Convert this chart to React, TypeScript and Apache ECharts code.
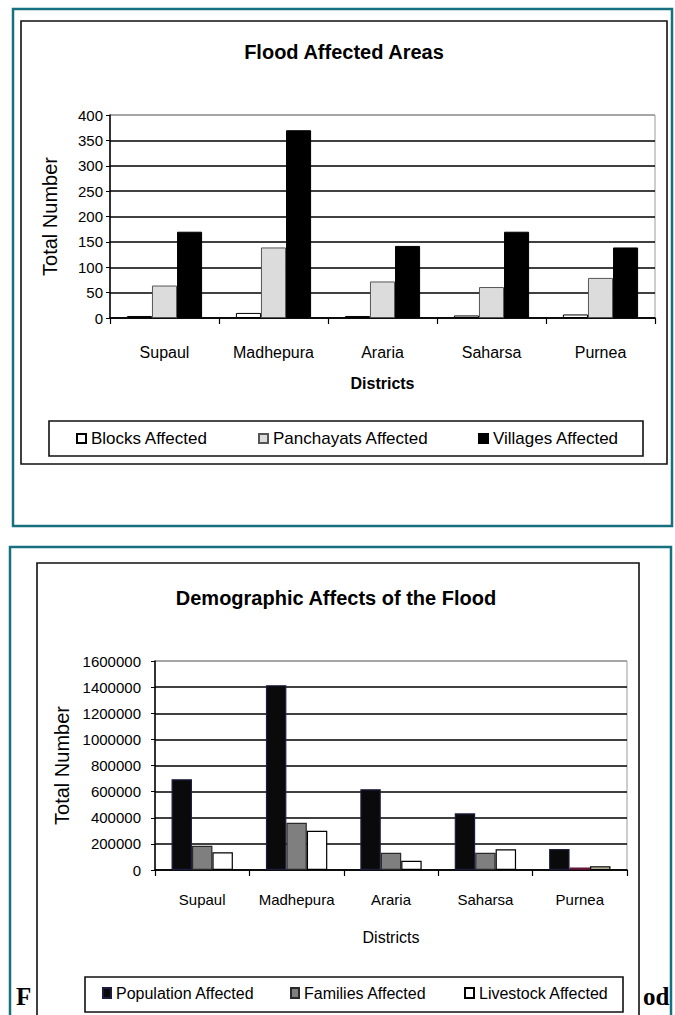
import React, { useEffect, useRef } from "react";
import * as echarts from "echarts";

const categories = ["Supaul", "Madhepura", "Araria", "Saharsa", "Purnea"];
const blocks = [4, 10, 4, 5, 7];
const panchayats = [64, 139, 72, 61, 79];
const villages = [170, 370, 142, 170, 139];
const population = [695000, 1415000, 618000, 434000, 160000];
const families = [185000, 362000, 132000, 132000, 20000];
const livestock = [135000, 301000, 71000, 158000, 28000];
const topTicksMax = 400;
const topTicksStep = 50;
const botTicksMax = 1600000;
const botTicksStep = 200000;

const SANS = "Liberation Sans, Arial, sans-serif";
const TEAL = "#17707f";

export default function App() {
  const ref = useRef<HTMLDivElement>(null);
  useEffect(() => {
    document.body.style.margin = "0";
    document.body.style.background = "#fff";
    const chart = echarts.init(ref.current!, null, { renderer: "svg" });
    const grid8 = (n: number) => {
      const arr: string[] = [];
      for (let i = 0; i < n; i++) arr.push("#000");
      arr.push("#9a9a9a");
      return arr;
    };
    const legendText = (size: number) => ({ fontFamily: SANS, fontSize: size, color: "#000" });
    const option: any = {
      animation: false,
      backgroundColor: "#fff",
      textStyle: { fontFamily: SANS },
      grid: [
        { left: 110, top: 115, width: 545, height: 203, show: true, borderColor: "#9a9a9a", borderWidth: 1, backgroundColor: "transparent" },
        { left: 155, top: 661, width: 472, height: 209, show: true, borderColor: "#9a9a9a", borderWidth: 1, backgroundColor: "transparent" },
      ],
      xAxis: [
        {
          type: "category", gridIndex: 0, data: categories,
          axisLine: { lineStyle: { color: "#000", width: 1.5 } },
          axisTick: { show: true, length: 6, lineStyle: { color: "#000", width: 1.2 } },
          axisLabel: { color: "#000", fontSize: 16, margin: 26, fontFamily: SANS, interval: 0 },
          name: "Districts", nameLocation: "middle", nameGap: 57,
          nameTextStyle: { color: "#000", fontSize: 16, fontWeight: "bold", fontFamily: SANS },
        },
        {
          type: "category", gridIndex: 1, data: categories,
          axisLine: { lineStyle: { color: "#000", width: 1.5 } },
          axisTick: { show: true, length: 6, lineStyle: { color: "#000", width: 1.2 } },
          axisLabel: { color: "#000", fontSize: 15, margin: 22, fontFamily: SANS, interval: 0 },
          name: "Districts", nameLocation: "middle", nameGap: 59,
          nameTextStyle: { color: "#000", fontSize: 16, fontFamily: SANS },
        },
      ],
      yAxis: [
        {
          type: "value", gridIndex: 0, min: 0, max: topTicksMax, interval: topTicksStep,
          axisLine: { show: true, lineStyle: { color: "#000", width: 1.5 } },
          axisTick: { show: true, length: 4, lineStyle: { color: "#000" } },
          axisLabel: { color: "#000", fontSize: 15, margin: 7, fontFamily: SANS },
          splitLine: { show: true, lineStyle: { color: grid8(8), width: 1.6 } },
          name: "Total Number", nameLocation: "middle", nameGap: 50,
          nameTextStyle: { color: "#000", fontSize: 20, fontFamily: SANS },
        },
        {
          type: "value", gridIndex: 1, min: 0, max: botTicksMax, interval: botTicksStep,
          axisLine: { show: true, lineStyle: { color: "#000", width: 1.5 } },
          axisTick: { show: true, length: 4, lineStyle: { color: "#000" } },
          axisLabel: { color: "#000", fontSize: 15, margin: 14, fontFamily: SANS, formatter: (v: number) => String(v) },
          splitLine: { show: true, lineStyle: { color: grid8(8), width: 1.6 } },
          name: "Total Number", nameLocation: "middle", nameGap: 80,
          nameTextStyle: { color: "#000", fontSize: 20, fontFamily: SANS },
        },
      ],
      legend: [
        { data: ["Blocks Affected"], left: 76, top: 430, padding: 0, icon: "rect", itemWidth: 9, itemHeight: 9, textStyle: legendText(17) },
        { data: ["Panchayats Affected"], left: 258, top: 430, padding: 0, icon: "rect", itemWidth: 9, itemHeight: 9, textStyle: legendText(17) },
        { data: ["Villages Affected"], left: 478, top: 430, padding: 0, icon: "rect", itemWidth: 9, itemHeight: 9, textStyle: legendText(17) },
        { data: ["Population Affected"], left: 102, top: 985, padding: 0, icon: "rect", itemWidth: 8, itemHeight: 10, textStyle: legendText(16) },
        { data: ["Families Affected"], left: 290, top: 985, padding: 0, icon: "rect", itemWidth: 8, itemHeight: 10, textStyle: legendText(16) },
        { data: ["Livestock Affected"], left: 464, top: 985, padding: 0, icon: "rect", itemWidth: 9, itemHeight: 10, textStyle: legendText(16) },
      ],
      series: [
        {
          name: "Blocks Affected", type: "bar", xAxisIndex: 0, yAxisIndex: 0, data: blocks,
          barGap: "0%", barCategoryGap: "31%",
          itemStyle: { color: "#ffffff", borderColor: "#000", borderWidth: 1 },
        },
        {
          name: "Panchayats Affected", type: "bar", xAxisIndex: 0, yAxisIndex: 0, data: panchayats,
          barGap: "0%", barCategoryGap: "31%",
          itemStyle: { color: "#dcdcdc", borderColor: "#555", borderWidth: 1 },
        },
        {
          name: "Villages Affected", type: "bar", xAxisIndex: 0, yAxisIndex: 0, data: villages,
          barGap: "0%", barCategoryGap: "31%",
          itemStyle: { color: "#000", borderColor: "#000", borderWidth: 1 },
        },
        {
          name: "Population Affected", type: "bar", xAxisIndex: 1, yAxisIndex: 1, data: population,
          barGap: "0%", barCategoryGap: "35%",
          itemStyle: { color: "#0a0a0a", borderColor: "#1c1c40", borderWidth: 1.2 },
        },
        {
          name: "Families Affected", type: "bar", xAxisIndex: 1, yAxisIndex: 1,
          data: families.map((v, i) => (i === 4 ? { value: v, itemStyle: { color: "#8a2052", borderColor: "#5a1030" } } : v)),
          barGap: "0%", barCategoryGap: "35%",
          itemStyle: { color: "#7f7f7f", borderColor: "#2a2a2a", borderWidth: 1.2 },
        },
        {
          name: "Livestock Affected", type: "bar", xAxisIndex: 1, yAxisIndex: 1,
          data: livestock.map((v, i) => (i === 4 ? { value: v, itemStyle: { color: "#eee9c8" } } : v)),
          barGap: "0%", barCategoryGap: "35%",
          itemStyle: { color: "#ffffff", borderColor: "#000", borderWidth: 1.2 },
        },
      ],
      graphic: [
        { type: "rect", z: -10, shape: { x: 13, y: 9, width: 659, height: 517 }, style: { fill: "none", stroke: TEAL, lineWidth: 2.5 } },
        { type: "rect", z: -10, shape: { x: 21, y: 21, width: 646, height: 443 }, style: { fill: "none", stroke: "#111", lineWidth: 1.6 } },
        { type: "rect", z: -10, shape: { x: 49, y: 421, width: 594, height: 35 }, style: { fill: "none", stroke: "#111", lineWidth: 1.6 } },
        { type: "text", style: { text: "Flood Affected Areas", x: 344, y: 52, align: "center", verticalAlign: "middle", font: "bold 20px " + SANS, fill: "#000" } },

        { type: "rect", z: -10, shape: { x: 10, y: 547, width: 661, height: 480 }, style: { fill: "none", stroke: TEAL, lineWidth: 2.5 } },
        { type: "rect", z: -10, shape: { x: 37, y: 563, width: 602, height: 470 }, style: { fill: "none", stroke: "#111", lineWidth: 1.6 } },
        { type: "rect", z: -10, shape: { x: 85, y: 977, width: 538, height: 35 }, style: { fill: "#fff", stroke: "#111", lineWidth: 1.6 } },
        { type: "text", style: { text: "Demographic Affects of the Flood", x: 336, y: 598, align: "center", verticalAlign: "middle", font: "bold 20px " + SANS, fill: "#000" } },
        { type: "text", style: { text: "F", x: 16, y: 996, align: "left", verticalAlign: "middle", font: "bold 25px Liberation Serif, serif", fill: "#000" } },
        { type: "text", style: { text: "od", x: 643, y: 996, align: "left", verticalAlign: "middle", font: "bold 25px Liberation Serif, serif", fill: "#000" } },
      ],
    };
    chart.setOption(option);
    return () => chart.dispose();
  }, []);
  return <div ref={ref} style={{ width: 675, height: 1015 }} />;
}
